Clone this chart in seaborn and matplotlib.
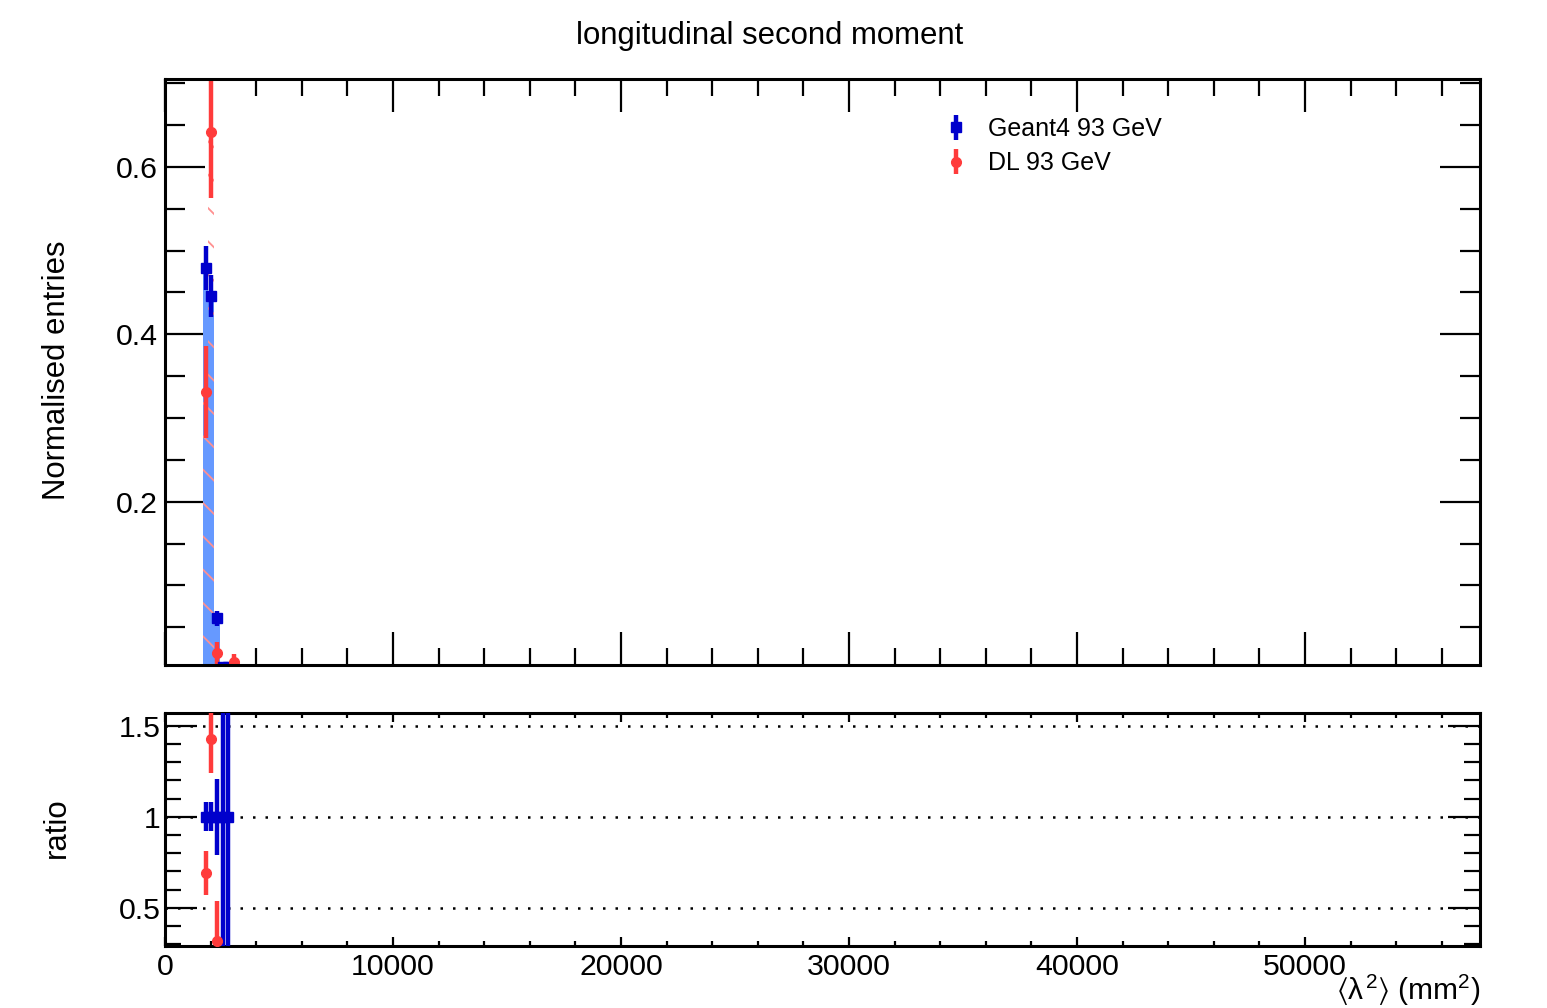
import numpy as np
import pandas as pd
import matplotlib
matplotlib.use("Agg")
import matplotlib.pyplot as plt
import seaborn as sns
from matplotlib.ticker import MultipleLocator, FuncFormatter

# ---------------- data ----------------
bin_edges = [1650, 1900, 2150, 2400, 2650, 2900, 3150]
bin_centers = [1775, 2025, 2275, 2525, 2775, 3025]
g4_vals = [0.479, 0.446, 0.061, 0.003, 0.003, 0.0]
g4_errs = [0.026, 0.025, 0.009, 0.003, 0.003, 0.0]
dl_vals = [0.331, 0.642, 0.0197, 0.0, 0.0, 0.009]
dl_errs = [0.055, 0.079, 0.013, 0.0, 0.0, 0.0095]

ratio_g4_centers = [1775, 2025, 2275, 2525, 2775]
ratio_g4 = [1.0, 1.0, 1.0, 1.0, 1.0]
ratio_g4_errs = [0.08, 0.08, 0.21, 1.41, 1.41]
ratio_dl_centers = [1775, 2025, 2275]
ratio_dl = [0.69, 1.43, 0.32]
ratio_dl_errs = [0.12, 0.19, 0.22]

ratio_lines = [0.5, 1.0, 1.5]

title = "longitudinal second moment"
g4_label = "Geant4 93 GeV"
dl_label = "DL 93 GeV"
ylabel_main = "Normalised entries"
ylabel_ratio = "ratio"
xlabel = r"$\langle\lambda^{2}\rangle$ (mm$^{2}$)"

# ---------------- style ----------------
sns.set_style("ticks")
plt.rcParams["font.family"] = ["Liberation Sans", "DejaVu Sans"]
plt.rcParams["mathtext.fontset"] = "custom"
plt.rcParams["mathtext.rm"] = "Liberation Sans"
plt.rcParams["mathtext.it"] = "Liberation Sans"
plt.rcParams["mathtext.fallback"] = "stixsans"
plt.rcParams["hatch.linewidth"] = 1.3
plt.rcParams["text.color"] = "black"
plt.rcParams["axes.labelcolor"] = "black"
plt.rcParams["xtick.color"] = "black"
plt.rcParams["ytick.color"] = "black"

BLUE = "#0000cc"
RED = "#ff3b3b"
FILL = "#6699ff"
HATCH = "#ff9090"
TICK_FS = 21.8

fig = plt.figure(figsize=(15.47, 10.08), dpi=100)
ax = fig.add_axes([0.1067, 0.3403, 0.85, 0.5813])
axr = fig.add_axes([0.1067, 0.0615, 0.85, 0.2312])

df = pd.DataFrame({"x": bin_centers, "g4": g4_vals, "g4e": g4_errs,
                   "dl": dl_vals, "dle": dl_errs})

# filled Geant4 histogram
sns.histplot(data=df, x="x", weights="g4", bins=bin_edges, ax=ax,
             element="bars", fill=True, facecolor=FILL, edgecolor=FILL,
             alpha=1, linewidth=0)
# hatched DL histogram
sns.histplot(data=df, x="x", weights="dl", bins=bin_edges, ax=ax,
             element="bars", fill=True, facecolor="none", edgecolor=HATCH,
             hatch="\\", alpha=1, linewidth=0)

g4p = df[df.g4 > 0]
dlp = df[df.dl > 0]
h_g4 = ax.errorbar(g4p.x, g4p.g4, yerr=g4p.g4e, fmt="s", color=BLUE,
                   markersize=7, elinewidth=3.2, capsize=0, label=g4_label)
h_dl = ax.errorbar(dlp.x, dlp.dl, yerr=dlp.dle, fmt="o", color=RED,
                   markersize=7, elinewidth=3.2, capsize=0, label=dl_label)

ax.set_xlim(0, 57675)
ax.set_ylim(0.005, 0.705)
ax.set_xlabel("")
ax.set_ylabel("")

# ratio panel
for v in ratio_lines:
    axr.axhline(v, color="black", linestyle=(0, (1, 4)), linewidth=1.8, zorder=1)
axr.errorbar(ratio_g4_centers, ratio_g4, yerr=ratio_g4_errs, fmt="s",
             color=BLUE, markersize=7, elinewidth=3.2, capsize=0, zorder=3)
axr.errorbar(ratio_dl_centers, ratio_dl, yerr=ratio_dl_errs, fmt="o",
             color=RED, markersize=7, elinewidth=3.2, capsize=0, zorder=4)
axr.set_xlim(0, 57675)
axr.set_ylim(0.29, 1.571)

fmt = FuncFormatter(lambda v, p: f"{v:g}")
for a in (ax, axr):
    a.xaxis.set_major_locator(MultipleLocator(10000))
    a.xaxis.set_minor_locator(MultipleLocator(2000))
    for s in a.spines.values():
        s.set_linewidth(2.2)
        s.set_color("black")
    a.yaxis.set_major_formatter(fmt)
    a.grid(False)

ax.yaxis.set_major_locator(MultipleLocator(0.2))
ax.yaxis.set_minor_locator(MultipleLocator(0.05))
axr.yaxis.set_major_locator(MultipleLocator(0.5))
axr.yaxis.set_minor_locator(MultipleLocator(0.1))

common = dict(direction="in", top=True, right=True, colors="black",
              labelsize=TICK_FS, width=1.6)
ax.tick_params(axis="x", which="major", length=24, labelbottom=False, **common)
ax.tick_params(axis="x", which="minor", length=12, **common)
ax.tick_params(axis="y", which="major", length=29, pad=5, **common)
ax.tick_params(axis="y", which="minor", length=14.5, **common)
axr.tick_params(axis="x", which="major", length=6.5, pad=5, **common)
axr.tick_params(axis="x", which="minor", length=3.5, **common)
axr.tick_params(axis="y", which="major", length=23, pad=3, **common)
axr.tick_params(axis="y", which="minor", length=11.5, **common)

# texts
fig.text(0.4977, 0.964, title, ha="center", va="center", fontsize=22.4)
fig.text(57 / 1547, 0.633, ylabel_main, rotation=90, ha="center", va="center", fontsize=22.4)
fig.text(57 / 1547, 0.1786, ylabel_ratio, rotation=90, ha="center", va="center", fontsize=22.4)
fig.text(0.9567, 0.0075, xlabel, ha="right", va="baseline", fontsize=21.5)

fig.legend(handles=[h_g4, h_dl], labels=[g4_label, dl_label],
           loc="upper left", bbox_to_anchor=(943 / 1547, 1 - 117 / 1008),
           frameon=False, fontsize=18, handlelength=1.0, handletextpad=0.8,
           labelspacing=0.42, borderpad=0, borderaxespad=0)

fig.savefig("out.png", dpi=100)
